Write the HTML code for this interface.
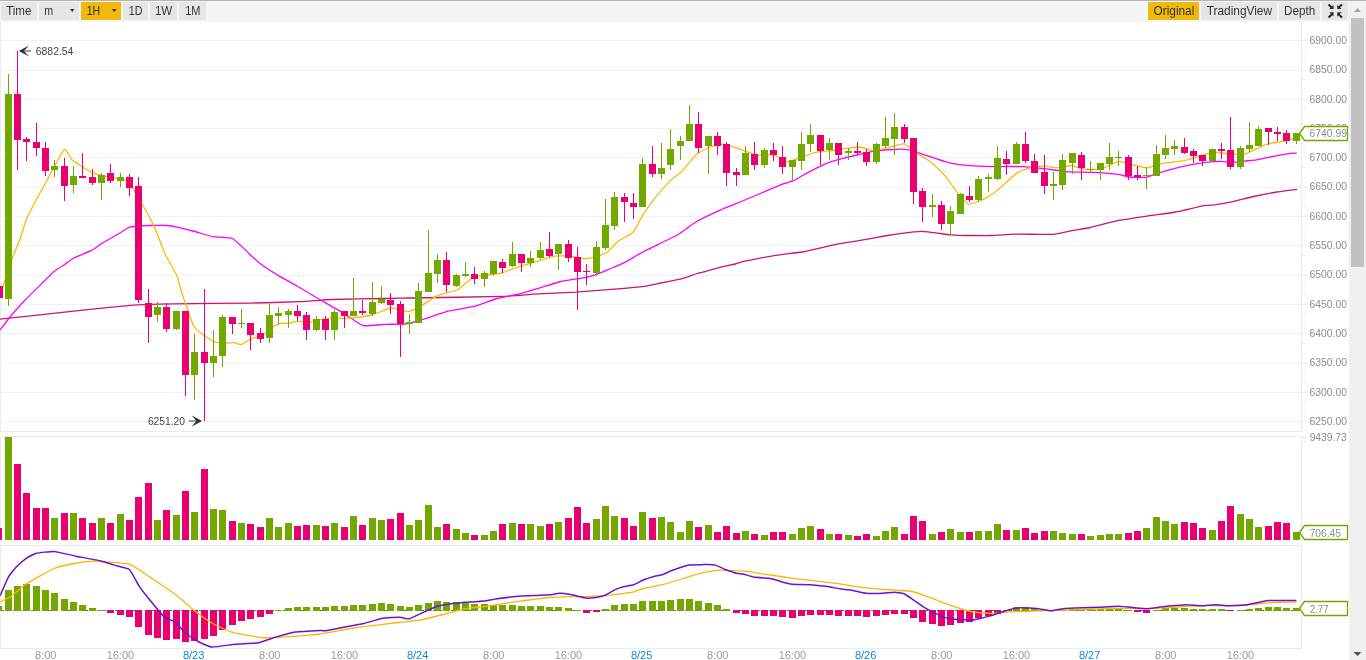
<!DOCTYPE html><html><head><meta charset="utf-8"><style>html,body{margin:0;padding:0;width:1366px;height:660px;overflow:hidden;background:#fff}svg{display:block;font-family:"Liberation Sans",sans-serif;will-change:transform}</style></head><body>
<svg width="1366" height="660" viewBox="0 0 1366 660">
<rect x="0" y="0" width="1366" height="22" fill="#f5f5f5"/>
<rect x="0" y="0" width="1366" height="1" fill="#b4b4b4"/>
<rect x="1" y="2" width="36" height="18" fill="#e6e6e6"/>
<rect x="39" y="2" width="40" height="18" fill="#e6e6e6"/>
<rect x="81" y="2" width="40" height="18" fill="#f0b90b"/>
<rect x="123" y="2" width="25" height="18" fill="#e6e6e6"/>
<rect x="150" y="2" width="27" height="18" fill="#e6e6e6"/>
<rect x="179" y="2" width="27" height="18" fill="#e6e6e6"/>
<rect x="1148" y="2" width="51" height="18" fill="#f0b90b"/>
<rect x="1201" y="2" width="76" height="18" fill="#e6e6e6"/>
<rect x="1279" y="2" width="41" height="18" fill="#e6e6e6"/>
<rect x="1322" y="2" width="26" height="18" fill="#e6e6e6"/>
<g font-size="12" fill="#333" lengthAdjust="spacingAndGlyphs">
<text x="6.2" y="14.8" textLength="25.2" lengthAdjust="spacingAndGlyphs">Time</text>
<text x="44.2" y="14.8" textLength="8.9" lengthAdjust="spacingAndGlyphs">m</text>
<text x="86.7" y="14.8" textLength="13.5" lengthAdjust="spacingAndGlyphs">1H</text>
<text x="128.8" y="14.8" textLength="13.7" lengthAdjust="spacingAndGlyphs">1D</text>
<text x="154.9" y="14.8" textLength="17.4" lengthAdjust="spacingAndGlyphs">1W</text>
<text x="185.2" y="14.8" textLength="15.3" lengthAdjust="spacingAndGlyphs">1M</text>
<text x="1153.6" y="14.8" textLength="40.7" lengthAdjust="spacingAndGlyphs">Original</text>
<text x="1206.7" y="14.8" textLength="65.3" lengthAdjust="spacingAndGlyphs">TradingView</text>
<text x="1284" y="14.8" textLength="31.2" lengthAdjust="spacingAndGlyphs">Depth</text>
</g>
<path d="M70,9 L74.5,9 L72.25,12 Z" fill="#333"/>
<path d="M112,9 L116.5,9 L114.25,12 Z" fill="#333"/>
<g stroke="#262626" stroke-width="2" stroke-linecap="butt" fill="#262626"><path d="M1328.5,4.5 L1331.8,7.6"/><path d="M1342,4.5 L1338.7,7.6"/><path d="M1328.5,17.5 L1331.8,14.4"/><path d="M1342,17.5 L1338.7,14.4"/></g>
<g fill="#262626"><path d="M1333.5,5 L1333.5,9 L1329.3,9 Z"/><path d="M1337.3,5 L1337.3,9 L1341.5,9 Z"/><path d="M1333.5,12.3 L1329.3,12.3 L1333.5,16.5 Z"/><path d="M1337.3,12.3 L1341.5,12.3 L1337.3,16.5 Z"/></g>
<rect x="1349" y="22" width="17" height="638" fill="#f0f0f0"/>
<rect x="1349" y="1" width="17" height="21" fill="#f1f1f1"/>
<rect x="1351" y="18" width="13" height="249" fill="#c1c1c1"/>
<path d="M1354,12 L1361,12 L1357.5,8 Z" fill="#a3a3a3"/>
<path d="M1353.5,652 L1361.5,652 L1357.5,656 Z" fill="#505050"/>
<g fill="none" stroke="#ebebeb" stroke-width="1" shape-rendering="crispEdges">
<path d="M0.5,22 V431.5 H1301.5 V22"/>
<path d="M0.5,436.5 H1301.5 V540.5 M0.5,436.5 V540"/>
<path d="M0.5,545.5 H1301.5 V648.5 H0.5 Z"/>
</g>
<g stroke="#efefef" stroke-width="1" stroke-dasharray="6.5 1.5">
<line x1="-1" y1="40.5" x2="1308" y2="40.5"/>
<line x1="-1" y1="70.5" x2="1308" y2="70.5"/>
<line x1="-1" y1="99.5" x2="1308" y2="99.5"/>
<line x1="-1" y1="128.5" x2="1308" y2="128.5"/>
<line x1="-1" y1="157.5" x2="1308" y2="157.5"/>
<line x1="-1" y1="187.5" x2="1308" y2="187.5"/>
<line x1="-1" y1="216.5" x2="1308" y2="216.5"/>
<line x1="-1" y1="245.5" x2="1308" y2="245.5"/>
<line x1="-1" y1="275.5" x2="1308" y2="275.5"/>
<line x1="-1" y1="304.5" x2="1308" y2="304.5"/>
<line x1="-1" y1="333.5" x2="1308" y2="333.5"/>
<line x1="-1" y1="363.5" x2="1308" y2="363.5"/>
<line x1="-1" y1="392.5" x2="1308" y2="392.5"/>
<line x1="-1" y1="421.5" x2="1308" y2="421.5"/>
</g>
<g fill="#e0e0e0" shape-rendering="crispEdges">
<rect x="1303" y="50" width="2" height="1"/>
<rect x="1303" y="59" width="2" height="1"/>
<rect x="1303" y="79" width="2" height="1"/>
<rect x="1303" y="89" width="2" height="1"/>
<rect x="1303" y="108" width="2" height="1"/>
<rect x="1303" y="118" width="2" height="1"/>
<rect x="1303" y="138" width="2" height="1"/>
<rect x="1303" y="147" width="2" height="1"/>
<rect x="1303" y="167" width="2" height="1"/>
<rect x="1303" y="177" width="2" height="1"/>
<rect x="1303" y="196" width="2" height="1"/>
<rect x="1303" y="206" width="2" height="1"/>
<rect x="1303" y="226" width="2" height="1"/>
<rect x="1303" y="235" width="2" height="1"/>
<rect x="1303" y="255" width="2" height="1"/>
<rect x="1303" y="265" width="2" height="1"/>
<rect x="1303" y="284" width="2" height="1"/>
<rect x="1303" y="294" width="2" height="1"/>
<rect x="1303" y="313" width="2" height="1"/>
<rect x="1303" y="323" width="2" height="1"/>
<rect x="1303" y="343" width="2" height="1"/>
<rect x="1303" y="353" width="2" height="1"/>
<rect x="1303" y="372" width="2" height="1"/>
<rect x="1303" y="382" width="2" height="1"/>
<rect x="1303" y="401" width="2" height="1"/>
<rect x="1303" y="411" width="2" height="1"/>
<rect x="1302" y="437" width="5" height="1"/><rect x="1303" y="441" width="2" height="1"/>
</g>
<g font-size="10.8" fill="#8c8c8c">
<text x="1309.6" y="43.9" textLength="37.4" lengthAdjust="spacingAndGlyphs">6900.00</text>
<text x="1309.6" y="73.2" textLength="37.4" lengthAdjust="spacingAndGlyphs">6850.00</text>
<text x="1309.6" y="102.5" textLength="37.4" lengthAdjust="spacingAndGlyphs">6800.00</text>
<text x="1309.6" y="131.8" textLength="37.4" lengthAdjust="spacingAndGlyphs">6750.00</text>
<text x="1309.6" y="161.1" textLength="37.4" lengthAdjust="spacingAndGlyphs">6700.00</text>
<text x="1309.6" y="190.4" textLength="37.4" lengthAdjust="spacingAndGlyphs">6650.00</text>
<text x="1309.6" y="219.8" textLength="37.4" lengthAdjust="spacingAndGlyphs">6600.00</text>
<text x="1309.6" y="249.1" textLength="37.4" lengthAdjust="spacingAndGlyphs">6550.00</text>
<text x="1309.6" y="278.4" textLength="37.4" lengthAdjust="spacingAndGlyphs">6500.00</text>
<text x="1309.6" y="307.7" textLength="37.4" lengthAdjust="spacingAndGlyphs">6450.00</text>
<text x="1309.6" y="337.0" textLength="37.4" lengthAdjust="spacingAndGlyphs">6400.00</text>
<text x="1309.6" y="366.3" textLength="37.4" lengthAdjust="spacingAndGlyphs">6350.00</text>
<text x="1309.6" y="395.6" textLength="37.4" lengthAdjust="spacingAndGlyphs">6300.00</text>
<text x="1309.6" y="424.9" textLength="37.4" lengthAdjust="spacingAndGlyphs">6250.00</text>
<text x="1309.7" y="441" textLength="36.9" lengthAdjust="spacingAndGlyphs">9439.73</text>
</g>
<path d="M0.0,319.1 C4.0,318.7 51.3,313.6 60.0,312.7 C68.7,311.8 122.5,305.9 130.0,305.3 C137.5,304.7 164.3,303.9 172.4,303.8 C180.5,303.7 242.4,303.2 250.9,303.1 C259.4,303.0 294.3,301.9 299.7,301.7 C305.1,301.5 325.8,299.7 331.5,299.5 C337.2,299.3 379.7,298.6 385.0,298.5 C390.3,298.4 402.6,298.1 410.5,298.0 C418.4,297.9 495.6,296.7 503.8,296.4 C512.0,296.1 528.7,294.5 533.5,294.2 C538.3,293.9 571.0,292.4 575.9,292.1 C580.8,291.8 603.4,289.9 607.7,289.6 C612.0,289.3 636.5,287.3 640.0,286.9 C643.5,286.5 658.2,283.5 660.9,283.0 C663.6,282.5 677.6,279.8 680.0,279.2 C682.4,278.6 695.2,274.1 697.1,273.5 C699.0,272.9 707.0,271.1 708.5,270.7 C710.0,270.3 718.1,267.7 719.9,267.3 C721.7,266.9 733.5,264.4 735.2,264.0 C736.9,263.6 742.2,261.7 744.7,261.2 C747.2,260.7 769.4,256.4 773.2,255.8 C777.0,255.2 798.6,252.5 801.8,252.0 C805.0,251.5 818.3,248.4 820.8,247.8 C823.3,247.2 837.3,244.2 839.8,243.7 C842.3,243.2 855.7,241.1 858.9,240.6 C862.1,240.1 884.7,236.0 887.4,235.5 C890.1,235.0 897.7,233.9 900.0,233.6 C902.3,233.3 918.6,231.3 922.0,231.4 C925.4,231.5 947.4,234.5 950.5,234.8 C953.6,235.1 965.9,235.5 968.6,235.5 C971.3,235.5 988.4,235.6 991.4,235.5 C994.4,235.4 1010.9,234.2 1014.1,234.1 C1017.3,234.0 1037.4,234.3 1040.0,234.3 C1042.6,234.3 1051.5,234.5 1053.6,234.3 C1055.7,234.1 1068.5,231.3 1071.0,230.8 C1073.5,230.3 1087.3,228.2 1090.4,227.5 C1093.5,226.8 1113.7,221.5 1117.6,220.7 C1121.5,219.9 1144.7,216.5 1148.6,215.9 C1152.5,215.3 1172.2,212.7 1175.8,212.0 C1179.4,211.3 1200.3,206.3 1202.9,205.8 C1205.5,205.3 1212.5,205.1 1214.6,204.8 C1216.7,204.5 1231.4,201.9 1234.0,201.3 C1236.6,200.7 1250.6,197.1 1253.4,196.5 C1256.2,195.9 1273.8,192.5 1276.7,192.0 C1279.6,191.5 1295.6,189.5 1297.0,189.3" fill="none" stroke="#c8176e" stroke-width="1.3"/>
<path d="M0.0,330.2 C0.6,329.4 7.5,319.9 9.1,318.0 C10.7,316.1 21.2,304.1 24.2,301.0 C27.2,297.9 51.1,274.2 53.8,271.8 C56.5,269.4 62.9,265.7 64.2,264.8 C65.5,263.9 72.0,259.0 73.9,258.0 C75.8,257.0 90.1,251.2 92.0,250.2 C93.9,249.2 99.9,244.6 101.7,243.5 C103.5,242.4 116.8,234.9 118.7,233.8 C120.6,232.7 127.5,227.8 129.6,227.2 C131.7,226.6 147.2,225.6 149.7,225.5 C152.2,225.4 165.6,225.4 167.4,225.5 C169.2,225.6 175.6,226.7 177.3,227.1 C179.0,227.5 190.6,230.4 193.0,231.0 C195.4,231.6 210.1,236.1 212.7,236.6 C215.3,237.1 230.0,237.4 232.4,238.5 C234.8,239.6 246.4,251.0 248.2,252.7 C250.0,254.4 257.9,262.0 260.0,263.6 C262.1,265.2 277.2,274.9 279.7,276.4 C282.2,277.9 294.7,284.6 297.4,286.2 C300.1,287.8 317.9,298.5 320.9,300.2 C323.9,301.9 339.3,310.6 342.1,312.3 C344.9,314.0 360.4,324.8 363.3,325.6 C366.2,326.4 382.1,324.4 385.0,324.3 C387.9,324.2 403.5,324.3 406.2,323.9 C408.9,323.5 422.6,319.4 425.3,318.6 C428.0,317.8 443.1,312.4 446.5,311.6 C449.9,310.8 472.8,306.8 476.2,305.9 C479.6,305.0 494.4,299.3 497.4,298.5 C500.4,297.7 517.9,294.3 520.7,293.6 C523.5,292.9 537.1,288.7 539.8,287.9 C542.5,287.1 557.9,282.2 561.0,281.5 C564.1,280.8 584.1,277.8 586.5,277.3 C588.9,276.8 595.7,274.6 597.1,274.1 C598.5,273.6 605.9,270.6 607.7,269.8 C609.5,269.0 622.2,263.7 624.7,262.4 C627.2,261.1 641.5,252.6 645.0,250.8 C648.5,249.0 674.0,236.9 677.4,235.0 C680.8,233.1 692.6,223.9 695.4,222.3 C698.2,220.7 715.3,212.2 718.8,210.6 C722.3,209.0 744.3,200.3 748.5,198.5 C752.7,196.7 779.4,185.3 782.4,184.1 C785.4,182.9 791.0,181.8 793.0,180.9 C795.0,180.0 809.7,171.5 812.1,170.3 C814.5,169.1 826.8,163.2 829.1,162.4 C831.4,161.6 843.9,158.1 846.0,157.6 C848.1,157.1 857.9,154.9 860.0,154.4 C862.1,153.9 875.0,151.1 877.7,150.7 C880.4,150.3 898.4,149.1 900.5,149.1 C902.6,149.1 907.7,149.7 909.5,150.2 C911.3,150.7 925.0,155.0 927.7,155.9 C930.4,156.8 947.5,162.5 950.5,163.2 C953.5,163.9 970.2,165.7 973.2,165.9 C976.2,166.1 992.6,166.6 995.9,166.6 C999.2,166.6 1019.9,166.4 1023.2,166.6 C1026.5,166.8 1042.9,168.6 1045.9,168.9 C1048.9,169.2 1065.3,171.6 1068.6,171.8 C1071.9,172.0 1092.6,172.1 1095.9,172.3 C1099.2,172.5 1116.4,174.1 1118.6,174.4 C1120.8,174.7 1127.4,176.8 1129.2,177.0 C1131.0,177.2 1144.3,177.6 1145.9,177.4 C1147.5,177.2 1152.2,175.1 1153.5,174.7 C1154.8,174.3 1163.8,171.4 1165.6,170.9 C1167.4,170.4 1178.6,167.3 1180.8,166.8 C1183.0,166.3 1196.3,163.7 1198.9,163.3 C1201.5,162.9 1218.1,161.5 1220.2,161.4 C1222.3,161.3 1229.2,162.3 1230.8,162.3 C1232.4,162.3 1242.7,161.3 1244.4,161.1 C1246.1,160.9 1254.9,160.1 1256.5,159.8 C1258.1,159.5 1266.6,157.7 1268.6,157.3 C1270.6,156.9 1284.9,154.1 1286.8,153.8 C1288.7,153.5 1296.0,153.2 1296.7,153.2" fill="none" stroke="#ff00ff" stroke-width="1.3"/>
<path d="M2.3,288.5 C2.9,286.6 10.6,262.9 11.8,259.7 C13.0,256.5 18.7,242.7 19.7,240.0 C20.7,237.3 25.5,221.5 26.6,218.8 C27.7,216.1 34.9,202.4 36.3,199.8 C37.7,197.2 45.3,183.4 47.2,180.0 C49.1,176.6 62.5,150.8 64.2,149.5 C65.9,148.2 70.8,158.9 72.7,160.4 C74.6,161.9 90.1,171.7 92.0,172.7 C93.9,173.7 99.4,175.1 101.7,175.6 C104.0,176.1 124.0,180.0 125.9,180.5 C127.8,181.0 128.9,182.3 130.0,183.8 C131.1,185.3 140.2,200.7 141.8,203.5 C143.4,206.3 152.0,221.7 153.6,225.1 C155.2,228.5 163.9,251.3 165.5,254.7 C167.1,258.1 176.3,274.0 177.3,276.4 C178.3,278.8 179.8,286.7 180.9,290.0 C182.0,293.3 192.0,323.0 193.6,326.0 C195.2,329.0 202.8,334.5 204.2,335.6 C205.6,336.7 213.3,341.5 214.8,342.0 C216.3,342.5 225.2,343.0 226.5,343.0 C227.8,343.0 232.9,342.5 233.9,342.6 C234.9,342.7 240.2,344.8 241.3,344.5 C242.4,344.2 249.4,339.5 250.9,338.8 C252.4,338.1 262.0,335.4 263.6,334.5 C265.2,333.6 273.1,326.7 274.2,326.0 C275.3,325.3 279.6,323.5 280.6,323.3 C281.6,323.1 288.0,323.4 289.1,323.3 C290.2,323.2 296.1,321.5 297.5,321.4 C298.9,321.3 308.7,321.9 310.3,321.8 C311.9,321.7 319.3,320.0 320.9,319.7 C322.5,319.4 332.0,317.7 333.6,317.6 C335.2,317.5 342.8,318.6 344.2,318.6 C345.6,318.6 353.0,317.8 354.8,317.6 C356.6,317.4 369.5,315.6 371.8,315.0 C374.1,314.4 388.3,308.4 390.0,308.0 C391.7,307.6 396.5,308.9 397.7,309.1 C398.9,309.3 406.7,311.8 408.3,311.6 C409.9,311.4 419.0,307.0 421.0,305.9 C423.0,304.8 435.6,296.4 438.0,295.3 C440.4,294.2 454.8,291.1 457.1,290.0 C459.4,288.9 470.4,279.3 472.0,278.3 C473.6,277.3 478.4,276.0 480.4,275.6 C482.4,275.2 499.5,273.5 501.6,273.0 C503.7,272.5 510.2,269.5 512.3,268.8 C514.4,268.1 530.7,263.2 533.5,262.4 C536.3,261.6 552.3,256.5 554.7,256.1 C557.1,255.7 567.4,255.9 569.5,256.1 C571.6,256.3 584.7,258.6 586.5,258.6 C588.3,258.6 595.7,257.0 597.1,256.5 C598.5,256.0 606.3,252.8 607.7,251.8 C609.1,250.8 616.6,242.5 618.3,241.2 C620.0,239.9 631.5,234.0 633.1,232.3 C634.7,230.6 640.9,218.2 642.4,215.9 C643.9,213.6 653.3,200.2 655.1,197.9 C656.9,195.6 668.3,182.6 670.0,180.9 C671.7,179.2 679.3,173.6 680.6,172.4 C681.9,171.2 688.0,164.2 689.1,162.9 C690.2,161.6 696.2,154.4 697.6,153.3 C699.0,152.2 708.6,147.6 710.3,147.0 C712.0,146.4 721.2,144.1 723.0,144.2 C724.8,144.3 736.2,147.9 737.9,148.4 C739.6,148.9 746.9,151.8 748.5,152.3 C750.1,152.8 759.5,155.2 761.2,155.4 C762.9,155.6 772.2,154.4 773.9,154.8 C775.6,155.2 784.9,161.6 786.6,161.8 C788.3,162.0 797.7,158.8 799.4,158.2 C801.1,157.6 810.5,153.8 812.1,153.3 C813.7,152.8 821.3,151.4 822.7,151.2 C824.1,151.0 831.7,150.8 833.3,150.6 C834.9,150.4 844.2,148.6 846.0,148.4 C847.8,148.2 858.2,146.8 860.0,147.0 C861.8,147.2 871.6,150.6 873.2,150.7 C874.8,150.8 882.5,148.9 884.5,148.4 C886.5,147.9 901.6,143.5 903.9,143.9 C906.2,144.3 916.7,152.8 918.6,154.1 C920.5,155.4 930.5,161.7 932.3,163.2 C934.1,164.7 944.2,174.8 945.9,176.8 C947.6,178.8 956.9,192.1 958.4,193.9 C959.9,195.7 967.0,203.7 968.6,204.1 C970.2,204.5 980.5,200.8 982.3,200.0 C984.1,199.2 993.6,193.4 995.9,191.6 C998.2,189.8 1014.1,175.0 1016.4,173.4 C1018.7,171.8 1029.3,167.8 1031.1,167.3 C1032.9,166.8 1041.9,165.9 1043.6,165.9 C1045.3,165.9 1055.5,167.7 1057.3,167.7 C1059.1,167.7 1069.2,165.4 1070.9,165.5 C1072.6,165.6 1080.6,168.6 1082.3,168.9 C1084.0,169.2 1094.4,169.6 1095.9,169.5 C1097.4,169.4 1103.5,167.8 1105.0,167.3 C1106.5,166.8 1117.1,161.7 1118.6,161.4 C1120.1,161.1 1126.5,163.0 1127.7,163.3 C1128.9,163.6 1135.5,165.6 1136.8,165.9 C1138.1,166.2 1145.5,167.9 1146.7,167.9 C1147.9,167.9 1153.9,165.6 1155.0,165.3 C1156.1,165.0 1161.3,163.5 1162.6,163.3 C1163.9,163.1 1173.2,162.0 1174.7,161.8 C1176.2,161.6 1183.9,160.6 1185.3,160.3 C1186.7,160.0 1194.4,157.8 1195.9,157.3 C1197.4,156.8 1206.6,153.8 1208.0,153.5 C1209.4,153.2 1215.8,152.3 1217.1,152.3 C1218.4,152.3 1226.5,153.7 1227.7,153.8 C1228.9,153.9 1234.0,154.2 1235.3,154.2 C1236.6,154.2 1246.0,153.6 1247.4,153.2 C1248.8,152.8 1255.4,149.4 1256.5,148.9 C1257.6,148.4 1263.0,145.6 1264.1,145.2 C1265.2,144.8 1272.0,143.1 1273.2,142.9 C1274.4,142.7 1281.1,142.0 1282.3,141.7 C1283.5,141.4 1290.4,139.4 1291.4,139.1 C1292.4,138.8 1296.3,137.2 1296.7,137.1" fill="none" stroke="#ffb900" stroke-width="1.3"/>
<g shape-rendering="crispEdges">
<rect x="0" y="286" width="3" height="12" fill="#e8006e"/>
<rect x="8" y="74" width="1" height="232" fill="#72a800"/>
<rect x="5" y="94" width="7" height="205" fill="#72a800"/>
<rect x="17" y="51" width="1" height="119" fill="#e8006e"/>
<rect x="14" y="94" width="7" height="46" fill="#e8006e"/>
<rect x="26" y="137" width="1" height="24" fill="#e8006e"/>
<rect x="23" y="139" width="7" height="3" fill="#e8006e"/>
<rect x="36" y="123" width="1" height="33" fill="#e8006e"/>
<rect x="33" y="142" width="7" height="6" fill="#e8006e"/>
<rect x="45" y="142" width="1" height="34" fill="#e8006e"/>
<rect x="42" y="148" width="7" height="23" fill="#e8006e"/>
<rect x="54" y="160" width="1" height="17" fill="#72a800"/>
<rect x="51" y="166" width="7" height="4" fill="#72a800"/>
<rect x="64" y="158" width="1" height="43" fill="#e8006e"/>
<rect x="61" y="166" width="7" height="20" fill="#e8006e"/>
<rect x="73" y="166" width="1" height="27" fill="#72a800"/>
<rect x="70" y="176" width="7" height="9" fill="#72a800"/>
<rect x="82" y="153" width="1" height="25" fill="#e8006e"/>
<rect x="79" y="176" width="7" height="2" fill="#e8006e"/>
<rect x="92" y="169" width="1" height="16" fill="#e8006e"/>
<rect x="89" y="177" width="7" height="6" fill="#e8006e"/>
<rect x="101" y="173" width="1" height="27" fill="#72a800"/>
<rect x="98" y="175" width="7" height="8" fill="#72a800"/>
<rect x="110" y="164" width="1" height="19" fill="#e8006e"/>
<rect x="107" y="173" width="7" height="8" fill="#e8006e"/>
<rect x="120" y="173" width="1" height="14" fill="#72a800"/>
<rect x="117" y="177" width="7" height="4" fill="#72a800"/>
<rect x="129" y="174" width="1" height="22" fill="#e8006e"/>
<rect x="126" y="177" width="7" height="11" fill="#e8006e"/>
<rect x="138" y="177" width="1" height="126" fill="#e8006e"/>
<rect x="135" y="186" width="7" height="114" fill="#e8006e"/>
<rect x="148" y="289" width="1" height="54" fill="#e8006e"/>
<rect x="145" y="303" width="7" height="14" fill="#e8006e"/>
<rect x="157" y="302" width="1" height="20" fill="#72a800"/>
<rect x="154" y="307" width="7" height="8" fill="#72a800"/>
<rect x="166" y="303" width="1" height="29" fill="#e8006e"/>
<rect x="163" y="307" width="7" height="22" fill="#e8006e"/>
<rect x="176" y="311" width="1" height="19" fill="#72a800"/>
<rect x="173" y="311" width="7" height="18" fill="#72a800"/>
<rect x="185" y="311" width="1" height="85" fill="#e8006e"/>
<rect x="182" y="311" width="7" height="64" fill="#e8006e"/>
<rect x="194" y="334" width="1" height="66" fill="#72a800"/>
<rect x="191" y="352" width="7" height="23" fill="#72a800"/>
<rect x="204" y="289" width="1" height="132" fill="#e8006e"/>
<rect x="201" y="352" width="7" height="11" fill="#e8006e"/>
<rect x="213" y="330" width="1" height="47" fill="#72a800"/>
<rect x="210" y="356" width="7" height="7" fill="#72a800"/>
<rect x="222" y="315" width="1" height="52" fill="#72a800"/>
<rect x="219" y="317" width="7" height="39" fill="#72a800"/>
<rect x="232" y="317" width="1" height="17" fill="#e8006e"/>
<rect x="229" y="317" width="7" height="7" fill="#e8006e"/>
<rect x="241" y="309" width="1" height="19" fill="#72a800"/>
<rect x="238" y="323" width="7" height="1" fill="#72a800"/>
<rect x="250" y="323" width="1" height="27" fill="#e8006e"/>
<rect x="247" y="323" width="7" height="12" fill="#e8006e"/>
<rect x="260" y="328" width="1" height="15" fill="#e8006e"/>
<rect x="257" y="333" width="7" height="6" fill="#e8006e"/>
<rect x="269" y="304" width="1" height="39" fill="#72a800"/>
<rect x="266" y="315" width="7" height="23" fill="#72a800"/>
<rect x="278" y="307" width="1" height="18" fill="#72a800"/>
<rect x="275" y="313" width="7" height="3" fill="#72a800"/>
<rect x="288" y="309" width="1" height="19" fill="#72a800"/>
<rect x="285" y="311" width="7" height="4" fill="#72a800"/>
<rect x="297" y="305" width="1" height="16" fill="#e8006e"/>
<rect x="294" y="311" width="7" height="5" fill="#e8006e"/>
<rect x="306" y="312" width="1" height="28" fill="#e8006e"/>
<rect x="303" y="315" width="7" height="15" fill="#e8006e"/>
<rect x="316" y="316" width="1" height="15" fill="#72a800"/>
<rect x="313" y="319" width="7" height="11" fill="#72a800"/>
<rect x="325" y="316" width="1" height="24" fill="#e8006e"/>
<rect x="322" y="319" width="7" height="11" fill="#e8006e"/>
<rect x="334" y="310" width="1" height="30" fill="#72a800"/>
<rect x="331" y="312" width="7" height="18" fill="#72a800"/>
<rect x="344" y="311" width="1" height="17" fill="#e8006e"/>
<rect x="341" y="311" width="7" height="5" fill="#e8006e"/>
<rect x="353" y="278" width="1" height="38" fill="#72a800"/>
<rect x="350" y="311" width="7" height="5" fill="#72a800"/>
<rect x="362" y="300" width="1" height="15" fill="#e8006e"/>
<rect x="359" y="311" width="7" height="2" fill="#e8006e"/>
<rect x="372" y="282" width="1" height="34" fill="#72a800"/>
<rect x="369" y="302" width="7" height="12" fill="#72a800"/>
<rect x="381" y="286" width="1" height="18" fill="#72a800"/>
<rect x="378" y="299" width="7" height="4" fill="#72a800"/>
<rect x="390" y="293" width="1" height="21" fill="#e8006e"/>
<rect x="387" y="300" width="7" height="5" fill="#e8006e"/>
<rect x="400" y="301" width="1" height="56" fill="#e8006e"/>
<rect x="397" y="304" width="7" height="20" fill="#e8006e"/>
<rect x="409" y="314" width="1" height="20" fill="#72a800"/>
<rect x="406" y="322" width="7" height="2" fill="#72a800"/>
<rect x="418" y="283" width="1" height="40" fill="#72a800"/>
<rect x="415" y="291" width="7" height="32" fill="#72a800"/>
<rect x="428" y="230" width="1" height="62" fill="#72a800"/>
<rect x="425" y="273" width="7" height="19" fill="#72a800"/>
<rect x="437" y="254" width="1" height="29" fill="#72a800"/>
<rect x="434" y="260" width="7" height="14" fill="#72a800"/>
<rect x="446" y="252" width="1" height="40" fill="#e8006e"/>
<rect x="443" y="260" width="7" height="25" fill="#e8006e"/>
<rect x="456" y="274" width="1" height="13" fill="#72a800"/>
<rect x="453" y="275" width="7" height="11" fill="#72a800"/>
<rect x="465" y="262" width="1" height="15" fill="#72a800"/>
<rect x="462" y="274" width="7" height="2" fill="#72a800"/>
<rect x="474" y="267" width="1" height="17" fill="#e8006e"/>
<rect x="471" y="274" width="7" height="5" fill="#e8006e"/>
<rect x="484" y="271" width="1" height="16" fill="#72a800"/>
<rect x="481" y="273" width="7" height="6" fill="#72a800"/>
<rect x="493" y="261" width="1" height="15" fill="#72a800"/>
<rect x="490" y="261" width="7" height="13" fill="#72a800"/>
<rect x="502" y="259" width="1" height="14" fill="#e8006e"/>
<rect x="499" y="262" width="7" height="6" fill="#e8006e"/>
<rect x="512" y="242" width="1" height="25" fill="#72a800"/>
<rect x="509" y="254" width="7" height="12" fill="#72a800"/>
<rect x="521" y="254" width="1" height="18" fill="#e8006e"/>
<rect x="518" y="254" width="7" height="9" fill="#e8006e"/>
<rect x="530" y="251" width="1" height="16" fill="#72a800"/>
<rect x="527" y="258" width="7" height="5" fill="#72a800"/>
<rect x="540" y="242" width="1" height="17" fill="#72a800"/>
<rect x="537" y="250" width="7" height="8" fill="#72a800"/>
<rect x="549" y="232" width="1" height="25" fill="#e8006e"/>
<rect x="546" y="249" width="7" height="7" fill="#e8006e"/>
<rect x="558" y="244" width="1" height="26" fill="#72a800"/>
<rect x="555" y="244" width="7" height="10" fill="#72a800"/>
<rect x="568" y="240" width="1" height="22" fill="#e8006e"/>
<rect x="565" y="244" width="7" height="14" fill="#e8006e"/>
<rect x="577" y="247" width="1" height="63" fill="#e8006e"/>
<rect x="574" y="257" width="7" height="15" fill="#e8006e"/>
<rect x="586" y="264" width="1" height="21" fill="#e8006e"/>
<rect x="583" y="271" width="7" height="1" fill="#e8006e"/>
<rect x="596" y="241" width="1" height="35" fill="#72a800"/>
<rect x="593" y="247" width="7" height="26" fill="#72a800"/>
<rect x="605" y="199" width="1" height="51" fill="#72a800"/>
<rect x="602" y="225" width="7" height="23" fill="#72a800"/>
<rect x="614" y="192" width="1" height="38" fill="#72a800"/>
<rect x="611" y="197" width="7" height="29" fill="#72a800"/>
<rect x="624" y="193" width="1" height="29" fill="#e8006e"/>
<rect x="621" y="197" width="7" height="5" fill="#e8006e"/>
<rect x="633" y="193" width="1" height="26" fill="#e8006e"/>
<rect x="630" y="203" width="7" height="4" fill="#e8006e"/>
<rect x="642" y="158" width="1" height="49" fill="#72a800"/>
<rect x="639" y="164" width="7" height="43" fill="#72a800"/>
<rect x="652" y="146" width="1" height="31" fill="#e8006e"/>
<rect x="649" y="164" width="7" height="10" fill="#e8006e"/>
<rect x="661" y="143" width="1" height="36" fill="#72a800"/>
<rect x="658" y="168" width="7" height="6" fill="#72a800"/>
<rect x="670" y="129" width="1" height="41" fill="#72a800"/>
<rect x="667" y="149" width="7" height="16" fill="#72a800"/>
<rect x="680" y="136" width="1" height="24" fill="#72a800"/>
<rect x="677" y="141" width="7" height="5" fill="#72a800"/>
<rect x="689" y="105" width="1" height="36" fill="#72a800"/>
<rect x="686" y="124" width="7" height="17" fill="#72a800"/>
<rect x="698" y="112" width="1" height="41" fill="#e8006e"/>
<rect x="695" y="124" width="7" height="24" fill="#e8006e"/>
<rect x="708" y="136" width="1" height="38" fill="#72a800"/>
<rect x="705" y="136" width="7" height="10" fill="#72a800"/>
<rect x="717" y="132" width="1" height="23" fill="#e8006e"/>
<rect x="714" y="136" width="7" height="10" fill="#e8006e"/>
<rect x="726" y="142" width="1" height="44" fill="#e8006e"/>
<rect x="723" y="144" width="7" height="29" fill="#e8006e"/>
<rect x="736" y="168" width="1" height="18" fill="#e8006e"/>
<rect x="733" y="172" width="7" height="3" fill="#e8006e"/>
<rect x="745" y="146" width="1" height="29" fill="#72a800"/>
<rect x="742" y="153" width="7" height="22" fill="#72a800"/>
<rect x="754" y="142" width="1" height="28" fill="#e8006e"/>
<rect x="751" y="154" width="7" height="11" fill="#e8006e"/>
<rect x="764" y="148" width="1" height="20" fill="#72a800"/>
<rect x="761" y="150" width="7" height="15" fill="#72a800"/>
<rect x="773" y="143" width="1" height="18" fill="#e8006e"/>
<rect x="770" y="150" width="7" height="5" fill="#e8006e"/>
<rect x="782" y="146" width="1" height="28" fill="#e8006e"/>
<rect x="779" y="157" width="7" height="10" fill="#e8006e"/>
<rect x="792" y="160" width="1" height="20" fill="#72a800"/>
<rect x="789" y="160" width="7" height="7" fill="#72a800"/>
<rect x="801" y="132" width="1" height="38" fill="#72a800"/>
<rect x="798" y="144" width="7" height="17" fill="#72a800"/>
<rect x="810" y="124" width="1" height="28" fill="#72a800"/>
<rect x="807" y="135" width="7" height="9" fill="#72a800"/>
<rect x="820" y="135" width="1" height="30" fill="#e8006e"/>
<rect x="817" y="135" width="7" height="16" fill="#e8006e"/>
<rect x="829" y="138" width="1" height="22" fill="#72a800"/>
<rect x="826" y="143" width="7" height="7" fill="#72a800"/>
<rect x="838" y="143" width="1" height="22" fill="#e8006e"/>
<rect x="835" y="143" width="7" height="12" fill="#e8006e"/>
<rect x="848" y="148" width="1" height="12" fill="#72a800"/>
<rect x="845" y="151" width="7" height="2" fill="#72a800"/>
<rect x="857" y="142" width="1" height="13" fill="#e8006e"/>
<rect x="854" y="151" width="7" height="2" fill="#e8006e"/>
<rect x="866" y="149" width="1" height="17" fill="#e8006e"/>
<rect x="863" y="152" width="7" height="10" fill="#e8006e"/>
<rect x="876" y="143" width="1" height="21" fill="#72a800"/>
<rect x="873" y="144" width="7" height="18" fill="#72a800"/>
<rect x="885" y="117" width="1" height="31" fill="#72a800"/>
<rect x="882" y="138" width="7" height="8" fill="#72a800"/>
<rect x="894" y="113" width="1" height="42" fill="#72a800"/>
<rect x="891" y="127" width="7" height="12" fill="#72a800"/>
<rect x="904" y="124" width="1" height="19" fill="#e8006e"/>
<rect x="901" y="127" width="7" height="12" fill="#e8006e"/>
<rect x="913" y="138" width="1" height="66" fill="#e8006e"/>
<rect x="910" y="138" width="7" height="54" fill="#e8006e"/>
<rect x="922" y="188" width="1" height="34" fill="#e8006e"/>
<rect x="919" y="191" width="7" height="16" fill="#e8006e"/>
<rect x="932" y="194" width="1" height="23" fill="#72a800"/>
<rect x="929" y="205" width="7" height="2" fill="#72a800"/>
<rect x="941" y="201" width="1" height="29" fill="#e8006e"/>
<rect x="938" y="205" width="7" height="19" fill="#e8006e"/>
<rect x="950" y="206" width="1" height="29" fill="#72a800"/>
<rect x="947" y="211" width="7" height="13" fill="#72a800"/>
<rect x="960" y="193" width="1" height="21" fill="#72a800"/>
<rect x="957" y="194" width="7" height="20" fill="#72a800"/>
<rect x="969" y="186" width="1" height="16" fill="#e8006e"/>
<rect x="966" y="196" width="7" height="4" fill="#e8006e"/>
<rect x="978" y="176" width="1" height="26" fill="#72a800"/>
<rect x="975" y="179" width="7" height="21" fill="#72a800"/>
<rect x="988" y="174" width="1" height="18" fill="#72a800"/>
<rect x="985" y="177" width="7" height="2" fill="#72a800"/>
<rect x="997" y="146" width="1" height="34" fill="#72a800"/>
<rect x="994" y="158" width="7" height="21" fill="#72a800"/>
<rect x="1006" y="151" width="1" height="24" fill="#e8006e"/>
<rect x="1003" y="159" width="7" height="5" fill="#e8006e"/>
<rect x="1016" y="142" width="1" height="22" fill="#72a800"/>
<rect x="1013" y="144" width="7" height="20" fill="#72a800"/>
<rect x="1025" y="132" width="1" height="31" fill="#e8006e"/>
<rect x="1022" y="144" width="7" height="17" fill="#e8006e"/>
<rect x="1034" y="154" width="1" height="19" fill="#e8006e"/>
<rect x="1031" y="161" width="7" height="12" fill="#e8006e"/>
<rect x="1044" y="155" width="1" height="39" fill="#e8006e"/>
<rect x="1041" y="172" width="7" height="14" fill="#e8006e"/>
<rect x="1053" y="172" width="1" height="28" fill="#72a800"/>
<rect x="1050" y="184" width="7" height="2" fill="#72a800"/>
<rect x="1062" y="154" width="1" height="36" fill="#72a800"/>
<rect x="1059" y="160" width="7" height="25" fill="#72a800"/>
<rect x="1072" y="153" width="1" height="21" fill="#72a800"/>
<rect x="1069" y="153" width="7" height="10" fill="#72a800"/>
<rect x="1081" y="152" width="1" height="28" fill="#e8006e"/>
<rect x="1078" y="155" width="7" height="13" fill="#e8006e"/>
<rect x="1090" y="161" width="1" height="11" fill="#72a800"/>
<rect x="1087" y="169" width="7" height="1" fill="#72a800"/>
<rect x="1100" y="163" width="1" height="17" fill="#72a800"/>
<rect x="1097" y="163" width="7" height="7" fill="#72a800"/>
<rect x="1109" y="143" width="1" height="27" fill="#72a800"/>
<rect x="1106" y="157" width="7" height="7" fill="#72a800"/>
<rect x="1118" y="151" width="1" height="15" fill="#72a800"/>
<rect x="1115" y="157" width="7" height="1" fill="#72a800"/>
<rect x="1128" y="155" width="1" height="25" fill="#e8006e"/>
<rect x="1125" y="157" width="7" height="19" fill="#e8006e"/>
<rect x="1137" y="166" width="1" height="14" fill="#e8006e"/>
<rect x="1134" y="175" width="7" height="2" fill="#e8006e"/>
<rect x="1146" y="167" width="1" height="22" fill="#72a800"/>
<rect x="1143" y="175" width="7" height="1" fill="#72a800"/>
<rect x="1156" y="145" width="1" height="31" fill="#72a800"/>
<rect x="1153" y="154" width="7" height="22" fill="#72a800"/>
<rect x="1165" y="135" width="1" height="24" fill="#72a800"/>
<rect x="1162" y="148" width="7" height="7" fill="#72a800"/>
<rect x="1174" y="140" width="1" height="15" fill="#72a800"/>
<rect x="1171" y="146" width="7" height="3" fill="#72a800"/>
<rect x="1184" y="138" width="1" height="16" fill="#e8006e"/>
<rect x="1181" y="147" width="7" height="6" fill="#e8006e"/>
<rect x="1193" y="149" width="1" height="14" fill="#e8006e"/>
<rect x="1190" y="151" width="7" height="5" fill="#e8006e"/>
<rect x="1202" y="155" width="1" height="11" fill="#e8006e"/>
<rect x="1199" y="155" width="7" height="6" fill="#e8006e"/>
<rect x="1212" y="149" width="1" height="12" fill="#72a800"/>
<rect x="1209" y="149" width="7" height="12" fill="#72a800"/>
<rect x="1221" y="143" width="1" height="16" fill="#e8006e"/>
<rect x="1218" y="149" width="7" height="2" fill="#e8006e"/>
<rect x="1230" y="117" width="1" height="52" fill="#e8006e"/>
<rect x="1227" y="150" width="7" height="17" fill="#e8006e"/>
<rect x="1240" y="146" width="1" height="23" fill="#72a800"/>
<rect x="1237" y="148" width="7" height="19" fill="#72a800"/>
<rect x="1249" y="122" width="1" height="30" fill="#72a800"/>
<rect x="1246" y="145" width="7" height="4" fill="#72a800"/>
<rect x="1258" y="126" width="1" height="20" fill="#72a800"/>
<rect x="1255" y="129" width="7" height="17" fill="#72a800"/>
<rect x="1268" y="128" width="1" height="17" fill="#e8006e"/>
<rect x="1265" y="128" width="7" height="4" fill="#e8006e"/>
<rect x="1277" y="127" width="1" height="14" fill="#e8006e"/>
<rect x="1274" y="132" width="7" height="2" fill="#e8006e"/>
<rect x="1286" y="130" width="1" height="14" fill="#e8006e"/>
<rect x="1283" y="133" width="7" height="8" fill="#e8006e"/>
<rect x="1296" y="133" width="1" height="11" fill="#72a800"/>
<rect x="1293" y="133" width="7" height="8" fill="#72a800"/>
</g>
<g stroke="#888" stroke-width="1.6" fill="none"><path d="M21,51 H31"/><path d="M189,421 H199"/></g>
<g fill="#333"><path d="M18.8,51 L29,45.5 L24,51 L29,56.5 Z"/><path d="M202,421 L191.5,415.3 L196.5,421 L191.5,426.7 Z"/></g>
<g font-size="10.8" fill="#444"><text x="35.8" y="55" textLength="37.6" lengthAdjust="spacingAndGlyphs">6882.54</text><text x="147.9" y="425" textLength="37.1" lengthAdjust="spacingAndGlyphs">6251.20</text></g>
<path d="M1299.5,133.5 L1304.5,126.5 H1347.5 V140.5 H1304.5 Z" fill="#fff" stroke="#72a800" stroke-width="1.3"/>
<text x="1309.5" y="137.3" font-size="10.8" fill="#8c8c8c" textLength="37.4" lengthAdjust="spacingAndGlyphs">6740.99</text>
<g shape-rendering="crispEdges">
<rect x="0" y="528" width="2" height="12" fill="#e8006e"/>
<rect x="5" y="437" width="7" height="103" fill="#72a800"/>
<rect x="14" y="464" width="7" height="76" fill="#e8006e"/>
<rect x="23" y="493" width="7" height="47" fill="#e8006e"/>
<rect x="33" y="508" width="7" height="32" fill="#e8006e"/>
<rect x="42" y="508" width="7" height="32" fill="#e8006e"/>
<rect x="51" y="518" width="7" height="22" fill="#72a800"/>
<rect x="61" y="513" width="7" height="27" fill="#e8006e"/>
<rect x="70" y="513" width="7" height="27" fill="#72a800"/>
<rect x="79" y="518" width="7" height="22" fill="#e8006e"/>
<rect x="89" y="523" width="7" height="17" fill="#e8006e"/>
<rect x="98" y="518" width="7" height="22" fill="#72a800"/>
<rect x="107" y="523" width="7" height="17" fill="#e8006e"/>
<rect x="117" y="514" width="7" height="26" fill="#72a800"/>
<rect x="126" y="520" width="7" height="20" fill="#e8006e"/>
<rect x="135" y="497" width="7" height="43" fill="#e8006e"/>
<rect x="145" y="483" width="7" height="57" fill="#e8006e"/>
<rect x="154" y="520" width="7" height="20" fill="#72a800"/>
<rect x="163" y="510" width="7" height="30" fill="#e8006e"/>
<rect x="173" y="515" width="7" height="25" fill="#72a800"/>
<rect x="182" y="491" width="7" height="49" fill="#e8006e"/>
<rect x="191" y="512" width="7" height="28" fill="#72a800"/>
<rect x="201" y="469" width="7" height="71" fill="#e8006e"/>
<rect x="210" y="509" width="7" height="31" fill="#72a800"/>
<rect x="219" y="510" width="7" height="30" fill="#72a800"/>
<rect x="229" y="521" width="7" height="19" fill="#e8006e"/>
<rect x="238" y="523" width="7" height="17" fill="#72a800"/>
<rect x="247" y="524" width="7" height="16" fill="#e8006e"/>
<rect x="257" y="527" width="7" height="13" fill="#e8006e"/>
<rect x="266" y="518" width="7" height="22" fill="#72a800"/>
<rect x="275" y="527" width="7" height="13" fill="#72a800"/>
<rect x="285" y="523" width="7" height="17" fill="#72a800"/>
<rect x="294" y="526" width="7" height="14" fill="#e8006e"/>
<rect x="303" y="525" width="7" height="15" fill="#e8006e"/>
<rect x="313" y="525" width="7" height="15" fill="#72a800"/>
<rect x="322" y="526" width="7" height="14" fill="#e8006e"/>
<rect x="331" y="523" width="7" height="17" fill="#72a800"/>
<rect x="341" y="527" width="7" height="13" fill="#e8006e"/>
<rect x="350" y="516" width="7" height="24" fill="#72a800"/>
<rect x="359" y="525" width="7" height="15" fill="#e8006e"/>
<rect x="369" y="518" width="7" height="22" fill="#72a800"/>
<rect x="378" y="520" width="7" height="20" fill="#72a800"/>
<rect x="387" y="519" width="7" height="21" fill="#e8006e"/>
<rect x="397" y="513" width="7" height="27" fill="#e8006e"/>
<rect x="406" y="525" width="7" height="15" fill="#72a800"/>
<rect x="415" y="520" width="7" height="20" fill="#72a800"/>
<rect x="425" y="505" width="7" height="35" fill="#72a800"/>
<rect x="434" y="527" width="7" height="13" fill="#72a800"/>
<rect x="443" y="524" width="7" height="16" fill="#e8006e"/>
<rect x="453" y="529" width="7" height="11" fill="#72a800"/>
<rect x="462" y="533" width="7" height="7" fill="#72a800"/>
<rect x="471" y="535" width="7" height="5" fill="#e8006e"/>
<rect x="481" y="535" width="7" height="5" fill="#72a800"/>
<rect x="490" y="531" width="7" height="9" fill="#72a800"/>
<rect x="499" y="524" width="7" height="16" fill="#e8006e"/>
<rect x="509" y="523" width="7" height="17" fill="#72a800"/>
<rect x="518" y="524" width="7" height="16" fill="#e8006e"/>
<rect x="527" y="524" width="7" height="16" fill="#72a800"/>
<rect x="537" y="526" width="7" height="14" fill="#72a800"/>
<rect x="546" y="524" width="7" height="16" fill="#e8006e"/>
<rect x="555" y="522" width="7" height="18" fill="#72a800"/>
<rect x="565" y="518" width="7" height="22" fill="#e8006e"/>
<rect x="574" y="507" width="7" height="33" fill="#e8006e"/>
<rect x="583" y="523" width="7" height="17" fill="#e8006e"/>
<rect x="593" y="519" width="7" height="21" fill="#72a800"/>
<rect x="602" y="506" width="7" height="34" fill="#72a800"/>
<rect x="611" y="516" width="7" height="24" fill="#72a800"/>
<rect x="621" y="518" width="7" height="22" fill="#e8006e"/>
<rect x="630" y="526" width="7" height="14" fill="#e8006e"/>
<rect x="639" y="512" width="7" height="28" fill="#72a800"/>
<rect x="649" y="518" width="7" height="22" fill="#e8006e"/>
<rect x="658" y="517" width="7" height="23" fill="#72a800"/>
<rect x="667" y="522" width="7" height="18" fill="#72a800"/>
<rect x="677" y="532" width="7" height="8" fill="#72a800"/>
<rect x="686" y="521" width="7" height="19" fill="#72a800"/>
<rect x="695" y="527" width="7" height="13" fill="#e8006e"/>
<rect x="705" y="525" width="7" height="15" fill="#72a800"/>
<rect x="714" y="532" width="7" height="8" fill="#e8006e"/>
<rect x="723" y="526" width="7" height="14" fill="#e8006e"/>
<rect x="733" y="533" width="7" height="7" fill="#e8006e"/>
<rect x="742" y="531" width="7" height="9" fill="#72a800"/>
<rect x="751" y="534" width="7" height="6" fill="#e8006e"/>
<rect x="761" y="535" width="7" height="5" fill="#72a800"/>
<rect x="770" y="532" width="7" height="8" fill="#e8006e"/>
<rect x="779" y="532" width="7" height="8" fill="#e8006e"/>
<rect x="789" y="534" width="7" height="6" fill="#72a800"/>
<rect x="798" y="528" width="7" height="12" fill="#72a800"/>
<rect x="807" y="526" width="7" height="14" fill="#72a800"/>
<rect x="817" y="529" width="7" height="11" fill="#e8006e"/>
<rect x="826" y="534" width="7" height="6" fill="#72a800"/>
<rect x="835" y="534" width="7" height="6" fill="#e8006e"/>
<rect x="845" y="535" width="7" height="5" fill="#72a800"/>
<rect x="854" y="536" width="7" height="4" fill="#e8006e"/>
<rect x="863" y="534" width="7" height="6" fill="#e8006e"/>
<rect x="873" y="536" width="7" height="4" fill="#72a800"/>
<rect x="882" y="531" width="7" height="9" fill="#72a800"/>
<rect x="891" y="527" width="7" height="13" fill="#72a800"/>
<rect x="901" y="534" width="7" height="6" fill="#e8006e"/>
<rect x="910" y="516" width="7" height="24" fill="#e8006e"/>
<rect x="919" y="521" width="7" height="19" fill="#e8006e"/>
<rect x="929" y="534" width="7" height="6" fill="#72a800"/>
<rect x="938" y="532" width="7" height="8" fill="#e8006e"/>
<rect x="947" y="529" width="7" height="11" fill="#72a800"/>
<rect x="957" y="532" width="7" height="8" fill="#72a800"/>
<rect x="966" y="532" width="7" height="8" fill="#e8006e"/>
<rect x="975" y="531" width="7" height="9" fill="#72a800"/>
<rect x="985" y="531" width="7" height="9" fill="#72a800"/>
<rect x="994" y="524" width="7" height="16" fill="#72a800"/>
<rect x="1003" y="530" width="7" height="10" fill="#e8006e"/>
<rect x="1013" y="530" width="7" height="10" fill="#72a800"/>
<rect x="1022" y="528" width="7" height="12" fill="#e8006e"/>
<rect x="1031" y="533" width="7" height="7" fill="#e8006e"/>
<rect x="1041" y="531" width="7" height="9" fill="#e8006e"/>
<rect x="1050" y="531" width="7" height="9" fill="#72a800"/>
<rect x="1059" y="533" width="7" height="7" fill="#72a800"/>
<rect x="1069" y="534" width="7" height="6" fill="#72a800"/>
<rect x="1078" y="534" width="7" height="6" fill="#e8006e"/>
<rect x="1087" y="536" width="7" height="4" fill="#72a800"/>
<rect x="1097" y="535" width="7" height="5" fill="#72a800"/>
<rect x="1106" y="534" width="7" height="6" fill="#72a800"/>
<rect x="1115" y="534" width="7" height="6" fill="#72a800"/>
<rect x="1125" y="533" width="7" height="7" fill="#e8006e"/>
<rect x="1134" y="531" width="7" height="9" fill="#e8006e"/>
<rect x="1143" y="528" width="7" height="12" fill="#72a800"/>
<rect x="1153" y="517" width="7" height="23" fill="#72a800"/>
<rect x="1162" y="521" width="7" height="19" fill="#72a800"/>
<rect x="1171" y="524" width="7" height="16" fill="#72a800"/>
<rect x="1181" y="522" width="7" height="18" fill="#e8006e"/>
<rect x="1190" y="523" width="7" height="17" fill="#e8006e"/>
<rect x="1199" y="528" width="7" height="12" fill="#e8006e"/>
<rect x="1209" y="530" width="7" height="10" fill="#72a800"/>
<rect x="1218" y="521" width="7" height="19" fill="#e8006e"/>
<rect x="1227" y="506" width="7" height="34" fill="#e8006e"/>
<rect x="1237" y="514" width="7" height="26" fill="#72a800"/>
<rect x="1246" y="519" width="7" height="21" fill="#72a800"/>
<rect x="1255" y="527" width="7" height="13" fill="#72a800"/>
<rect x="1265" y="526" width="7" height="14" fill="#e8006e"/>
<rect x="1274" y="522" width="7" height="18" fill="#e8006e"/>
<rect x="1283" y="523" width="7" height="17" fill="#e8006e"/>
<rect x="1293" y="532" width="7" height="8" fill="#72a800"/>
</g>
<path d="M1299.5,532.5 L1304.5,525.5 H1347.5 V539.5 H1304.5 Z" fill="#fff" stroke="#72a800" stroke-width="1.3"/>
<text x="1309.7" y="536.8" font-size="10.8" fill="#8c8c8c" textLength="31.1" lengthAdjust="spacingAndGlyphs">706.45</text>
<line x1="1" y1="610.5" x2="1300" y2="610.5" stroke="#666" stroke-width="1" stroke-dasharray="3 3" shape-rendering="crispEdges"/>
<g shape-rendering="crispEdges">
<rect x="0" y="606" width="2" height="5" fill="#72a800"/>
<rect x="5" y="590" width="7" height="21" fill="#72a800"/>
<rect x="14" y="586" width="7" height="25" fill="#72a800"/>
<rect x="23" y="584" width="7" height="27" fill="#72a800"/>
<rect x="33" y="586" width="7" height="25" fill="#72a800"/>
<rect x="42" y="590" width="7" height="21" fill="#72a800"/>
<rect x="51" y="593" width="7" height="18" fill="#72a800"/>
<rect x="61" y="599" width="7" height="12" fill="#72a800"/>
<rect x="70" y="602" width="7" height="9" fill="#72a800"/>
<rect x="79" y="605" width="7" height="6" fill="#72a800"/>
<rect x="89" y="608" width="7" height="3" fill="#72a800"/>
<rect x="98" y="610" width="7" height="1" fill="#72a800"/>
<rect x="107" y="610" width="7" height="3" fill="#e8006e"/>
<rect x="117" y="610" width="7" height="5" fill="#e8006e"/>
<rect x="126" y="610" width="7" height="7" fill="#e8006e"/>
<rect x="135" y="610" width="7" height="17" fill="#e8006e"/>
<rect x="145" y="610" width="7" height="25" fill="#e8006e"/>
<rect x="154" y="610" width="7" height="28" fill="#e8006e"/>
<rect x="163" y="610" width="7" height="30" fill="#e8006e"/>
<rect x="173" y="610" width="7" height="29" fill="#e8006e"/>
<rect x="182" y="610" width="7" height="32" fill="#e8006e"/>
<rect x="191" y="610" width="7" height="31" fill="#e8006e"/>
<rect x="201" y="610" width="7" height="29" fill="#e8006e"/>
<rect x="210" y="610" width="7" height="26" fill="#e8006e"/>
<rect x="219" y="610" width="7" height="20" fill="#e8006e"/>
<rect x="229" y="610" width="7" height="15" fill="#e8006e"/>
<rect x="238" y="610" width="7" height="11" fill="#e8006e"/>
<rect x="247" y="610" width="7" height="9" fill="#e8006e"/>
<rect x="257" y="610" width="7" height="7" fill="#e8006e"/>
<rect x="266" y="610" width="7" height="4" fill="#e8006e"/>
<rect x="275" y="610" width="7" height="1" fill="#72a800"/>
<rect x="285" y="608" width="7" height="3" fill="#72a800"/>
<rect x="294" y="607" width="7" height="4" fill="#72a800"/>
<rect x="303" y="607" width="7" height="4" fill="#72a800"/>
<rect x="313" y="607" width="7" height="4" fill="#72a800"/>
<rect x="322" y="607" width="7" height="4" fill="#72a800"/>
<rect x="331" y="606" width="7" height="5" fill="#72a800"/>
<rect x="341" y="606" width="7" height="5" fill="#72a800"/>
<rect x="350" y="605" width="7" height="6" fill="#72a800"/>
<rect x="359" y="605" width="7" height="6" fill="#72a800"/>
<rect x="369" y="604" width="7" height="7" fill="#72a800"/>
<rect x="378" y="603" width="7" height="8" fill="#72a800"/>
<rect x="387" y="604" width="7" height="7" fill="#72a800"/>
<rect x="397" y="606" width="7" height="5" fill="#72a800"/>
<rect x="406" y="607" width="7" height="4" fill="#72a800"/>
<rect x="415" y="605" width="7" height="6" fill="#72a800"/>
<rect x="425" y="603" width="7" height="8" fill="#72a800"/>
<rect x="434" y="601" width="7" height="10" fill="#72a800"/>
<rect x="443" y="602" width="7" height="9" fill="#72a800"/>
<rect x="453" y="602" width="7" height="9" fill="#72a800"/>
<rect x="462" y="603" width="7" height="8" fill="#72a800"/>
<rect x="471" y="604" width="7" height="7" fill="#72a800"/>
<rect x="481" y="604" width="7" height="7" fill="#72a800"/>
<rect x="490" y="605" width="7" height="6" fill="#72a800"/>
<rect x="499" y="605" width="7" height="6" fill="#72a800"/>
<rect x="509" y="605" width="7" height="6" fill="#72a800"/>
<rect x="518" y="606" width="7" height="5" fill="#72a800"/>
<rect x="527" y="606" width="7" height="5" fill="#72a800"/>
<rect x="537" y="606" width="7" height="5" fill="#72a800"/>
<rect x="546" y="607" width="7" height="4" fill="#72a800"/>
<rect x="555" y="607" width="7" height="4" fill="#72a800"/>
<rect x="565" y="608" width="7" height="3" fill="#72a800"/>
<rect x="574" y="610" width="7" height="1" fill="#72a800"/>
<rect x="583" y="610" width="7" height="3" fill="#e8006e"/>
<rect x="593" y="610" width="7" height="2" fill="#e8006e"/>
<rect x="602" y="609" width="7" height="2" fill="#72a800"/>
<rect x="611" y="605" width="7" height="6" fill="#72a800"/>
<rect x="621" y="604" width="7" height="7" fill="#72a800"/>
<rect x="630" y="604" width="7" height="7" fill="#72a800"/>
<rect x="639" y="601" width="7" height="10" fill="#72a800"/>
<rect x="649" y="601" width="7" height="10" fill="#72a800"/>
<rect x="658" y="601" width="7" height="10" fill="#72a800"/>
<rect x="667" y="600" width="7" height="11" fill="#72a800"/>
<rect x="677" y="599" width="7" height="12" fill="#72a800"/>
<rect x="686" y="599" width="7" height="12" fill="#72a800"/>
<rect x="695" y="601" width="7" height="10" fill="#72a800"/>
<rect x="705" y="603" width="7" height="8" fill="#72a800"/>
<rect x="714" y="605" width="7" height="6" fill="#72a800"/>
<rect x="723" y="609" width="7" height="2" fill="#72a800"/>
<rect x="733" y="610" width="7" height="3" fill="#e8006e"/>
<rect x="742" y="610" width="7" height="4" fill="#e8006e"/>
<rect x="751" y="610" width="7" height="6" fill="#e8006e"/>
<rect x="761" y="610" width="7" height="6" fill="#e8006e"/>
<rect x="770" y="610" width="7" height="6" fill="#e8006e"/>
<rect x="779" y="610" width="7" height="7" fill="#e8006e"/>
<rect x="789" y="610" width="7" height="8" fill="#e8006e"/>
<rect x="798" y="610" width="7" height="6" fill="#e8006e"/>
<rect x="807" y="610" width="7" height="5" fill="#e8006e"/>
<rect x="817" y="610" width="7" height="5" fill="#e8006e"/>
<rect x="826" y="610" width="7" height="5" fill="#e8006e"/>
<rect x="835" y="610" width="7" height="6" fill="#e8006e"/>
<rect x="845" y="610" width="7" height="6" fill="#e8006e"/>
<rect x="854" y="610" width="7" height="6" fill="#e8006e"/>
<rect x="863" y="610" width="7" height="7" fill="#e8006e"/>
<rect x="873" y="610" width="7" height="6" fill="#e8006e"/>
<rect x="882" y="610" width="7" height="5" fill="#e8006e"/>
<rect x="891" y="610" width="7" height="4" fill="#e8006e"/>
<rect x="901" y="610" width="7" height="4" fill="#e8006e"/>
<rect x="910" y="610" width="7" height="8" fill="#e8006e"/>
<rect x="919" y="610" width="7" height="12" fill="#e8006e"/>
<rect x="929" y="610" width="7" height="14" fill="#e8006e"/>
<rect x="938" y="610" width="7" height="16" fill="#e8006e"/>
<rect x="947" y="610" width="7" height="15" fill="#e8006e"/>
<rect x="957" y="610" width="7" height="13" fill="#e8006e"/>
<rect x="966" y="610" width="7" height="12" fill="#e8006e"/>
<rect x="975" y="610" width="7" height="8" fill="#e8006e"/>
<rect x="985" y="610" width="7" height="6" fill="#e8006e"/>
<rect x="994" y="610" width="7" height="4" fill="#e8006e"/>
<rect x="1003" y="610" width="7" height="1" fill="#72a800"/>
<rect x="1013" y="607" width="7" height="4" fill="#72a800"/>
<rect x="1022" y="607" width="7" height="4" fill="#72a800"/>
<rect x="1031" y="608" width="7" height="3" fill="#72a800"/>
<rect x="1041" y="610" width="7" height="1" fill="#72a800"/>
<rect x="1050" y="610" width="7" height="1" fill="#e8006e"/>
<rect x="1059" y="610" width="7" height="1" fill="#72a800"/>
<rect x="1069" y="609" width="7" height="2" fill="#72a800"/>
<rect x="1078" y="609" width="7" height="2" fill="#72a800"/>
<rect x="1087" y="609" width="7" height="2" fill="#72a800"/>
<rect x="1097" y="609" width="7" height="2" fill="#72a800"/>
<rect x="1106" y="609" width="7" height="2" fill="#72a800"/>
<rect x="1115" y="609" width="7" height="2" fill="#72a800"/>
<rect x="1125" y="610" width="7" height="1" fill="#72a800"/>
<rect x="1134" y="610" width="7" height="2" fill="#e8006e"/>
<rect x="1143" y="610" width="7" height="3" fill="#e8006e"/>
<rect x="1153" y="610" width="7" height="1" fill="#72a800"/>
<rect x="1162" y="608" width="7" height="3" fill="#72a800"/>
<rect x="1171" y="608" width="7" height="3" fill="#72a800"/>
<rect x="1181" y="608" width="7" height="3" fill="#72a800"/>
<rect x="1190" y="609" width="7" height="2" fill="#72a800"/>
<rect x="1199" y="609" width="7" height="2" fill="#72a800"/>
<rect x="1209" y="609" width="7" height="2" fill="#72a800"/>
<rect x="1218" y="609" width="7" height="2" fill="#72a800"/>
<rect x="1227" y="610" width="7" height="1" fill="#e8006e"/>
<rect x="1237" y="610" width="7" height="1" fill="#72a800"/>
<rect x="1246" y="609" width="7" height="2" fill="#72a800"/>
<rect x="1255" y="608" width="7" height="3" fill="#72a800"/>
<rect x="1265" y="607" width="7" height="4" fill="#72a800"/>
<rect x="1274" y="607" width="7" height="4" fill="#72a800"/>
<rect x="1283" y="608" width="7" height="3" fill="#72a800"/>
<rect x="1293" y="608" width="7" height="3" fill="#72a800"/>
</g>
<path d="M0.0,602.2 C0.7,601.8 8.8,597.6 10.6,596.4 C12.4,595.2 23.6,585.6 26.5,583.7 C29.4,581.8 50.8,569.8 54.0,568.5 C57.2,567.2 71.4,564.0 74.2,563.5 C77.0,563.0 91.7,561.1 95.4,561.1 C99.1,561.1 125.9,563.2 129.4,564.2 C132.9,565.2 145.5,574.2 148.5,576.2 C151.5,578.2 172.1,591.9 175.1,594.2 C178.1,596.5 191.6,608.4 194.1,610.4 C196.6,612.4 210.7,622.2 213.2,623.7 C215.7,625.2 229.0,631.4 232.2,632.3 C235.4,633.2 257.9,637.2 260.7,637.5 C263.5,637.8 272.1,637.6 274.0,637.5 C275.9,637.4 287.2,636.8 289.3,636.7 C291.4,636.6 303.7,635.6 305.7,635.4 C307.7,635.2 316.6,634.5 320.0,634.0 C323.4,633.5 351.9,628.2 356.6,627.5 C361.3,626.8 386.1,623.9 390.3,623.4 C394.5,622.9 416.1,620.7 419.6,620.1 C423.1,619.5 439.9,615.3 443.0,614.5 C446.1,613.7 463.9,608.9 466.4,608.4 C468.9,607.9 479.0,607.2 481.0,607.0 C483.0,606.8 493.1,605.2 495.7,604.8 C498.3,604.4 517.8,601.4 520.0,601.1 C522.2,600.8 527.1,600.2 529.0,600.0 C530.9,599.8 545.6,597.7 548.1,597.5 C550.6,597.3 564.6,596.8 567.1,596.7 C569.6,596.6 583.6,596.8 586.1,596.7 C588.6,596.6 602.7,595.8 605.2,595.6 C607.7,595.4 622.3,593.6 624.2,593.3 C626.1,593.0 632.4,592.1 633.7,591.8 C635.0,591.5 641.3,589.0 643.2,588.5 C645.1,588.0 659.8,585.3 662.3,584.7 C664.8,584.1 678.8,579.8 681.3,579.0 C683.8,578.2 697.8,573.9 700.3,573.3 C702.8,572.7 717.4,570.3 719.4,570.1 C721.4,569.9 728.9,570.4 730.8,570.5 C732.7,570.6 745.6,571.1 747.9,571.4 C750.2,571.7 763.1,574.0 765.0,574.3 C766.9,574.6 774.6,575.5 776.4,575.8 C778.2,576.1 789.3,577.8 791.6,578.1 C793.9,578.4 808.0,580.1 810.7,580.4 C813.4,580.7 829.3,582.5 831.6,582.8 C833.9,583.1 843.0,584.4 844.9,584.7 C846.8,585.0 857.9,586.9 860.2,587.2 C862.5,587.5 876.7,588.9 879.2,589.1 C881.7,589.3 896.2,590.3 898.2,590.4 C900.2,590.5 908.0,590.7 909.7,591.0 C911.4,591.3 921.2,594.2 923.0,594.8 C924.8,595.4 934.4,599.3 936.3,600.0 C938.2,600.7 949.6,605.0 951.5,605.7 C953.4,606.4 963.1,609.5 964.9,610.0 C966.7,610.5 976.3,612.5 978.2,612.7 C980.1,612.9 991.4,613.4 993.4,613.3 C995.4,613.2 1006.5,612.0 1008.6,611.9 C1010.7,611.8 1022.2,611.5 1025.0,611.4 C1027.8,611.3 1047.5,610.6 1051.3,610.5 C1055.1,610.4 1078.4,609.4 1082.6,609.3 C1086.8,609.2 1109.7,608.5 1113.9,608.4 C1118.1,608.3 1141.7,608.4 1145.2,608.4 C1148.7,608.4 1163.2,607.9 1166.0,607.8 C1168.8,607.7 1184.1,606.4 1186.9,606.3 C1189.7,606.2 1205.0,605.7 1207.8,605.7 C1210.6,605.7 1225.8,605.8 1228.6,605.7 C1231.4,605.6 1246.7,604.9 1249.5,604.7 C1252.3,604.5 1267.3,602.8 1270.4,602.6 C1273.5,602.4 1294.7,602.2 1296.4,602.2" fill="none" stroke="#ffb400" stroke-width="1.3"/>
<path d="M0.0,595.8 C0.6,594.5 7.4,578.8 8.5,576.8 C9.6,574.8 15.8,567.4 17.0,566.2 C18.2,565.0 25.3,559.0 26.6,558.1 C27.9,557.2 34.4,553.7 36.2,553.3 C38.0,552.9 51.5,551.2 54.2,551.4 C56.9,551.6 73.0,555.6 76.1,556.2 C79.2,556.8 98.4,560.3 100.9,560.9 C103.4,561.5 112.3,564.5 114.2,565.1 C116.1,565.7 127.8,568.1 129.4,569.5 C131.0,570.9 137.6,583.7 138.8,585.6 C140.0,587.5 145.9,595.2 147.6,597.3 C149.3,599.4 161.8,614.7 163.7,616.4 C165.6,618.1 173.9,621.1 175.4,622.2 C176.9,623.3 184.1,631.9 185.6,633.2 C187.1,634.5 196.2,640.6 198.0,641.5 C199.8,642.4 209.5,646.9 212.0,647.1 C214.5,647.3 232.3,644.5 235.4,644.2 C238.5,643.9 256.1,643.2 258.8,642.7 C261.5,642.2 274.0,637.6 276.4,636.9 C278.8,636.2 292.5,632.4 295.4,632.0 C298.3,631.6 318.0,630.5 320.0,630.4 C322.0,630.3 323.0,631.2 325.9,630.7 C328.8,630.2 360.2,624.2 363.9,623.4 C367.6,622.6 379.5,618.8 381.5,618.4 C383.5,618.0 391.8,617.6 393.2,617.5 C394.6,617.4 400.9,617.4 402.0,617.5 C403.1,617.6 407.0,619.5 409.3,618.7 C411.6,617.9 433.8,607.3 437.1,606.2 C440.4,605.1 456.0,603.2 459.1,602.9 C462.2,602.6 481.6,601.4 484.0,601.1 C486.4,600.8 493.3,599.2 495.7,598.9 C498.1,598.6 517.0,596.2 520.0,596.0 C523.0,595.8 538.5,595.3 540.5,595.2 C542.5,595.1 548.7,594.9 550.0,594.8 C551.3,594.7 558.1,593.3 559.5,593.3 C560.9,593.3 569.1,594.3 570.9,594.6 C572.7,594.9 584.5,597.9 586.1,598.1 C587.7,598.3 594.3,597.7 595.6,597.5 C596.9,597.3 603.9,595.7 605.2,595.2 C606.5,594.7 613.4,590.5 614.7,589.9 C616.0,589.3 622.9,586.9 624.2,586.6 C625.5,586.3 632.4,585.1 633.7,584.7 C635.0,584.3 641.8,580.6 643.2,580.0 C644.6,579.4 653.4,576.5 654.7,576.2 C656.0,575.9 661.2,575.2 662.3,574.8 C663.4,574.4 670.0,571.1 671.8,570.5 C673.6,569.9 687.0,565.5 688.9,565.1 C690.8,564.7 699.0,564.7 700.3,564.7 C701.6,564.7 706.9,564.4 707.9,564.4 C708.9,564.4 714.5,564.8 715.6,565.1 C716.7,565.4 723.7,569.0 725.1,569.5 C726.5,570.0 735.2,573.0 736.5,573.3 C737.8,573.6 743.0,574.0 744.1,574.3 C745.2,574.6 752.2,576.8 753.6,577.1 C755.0,577.4 763.7,578.0 765.0,578.1 C766.3,578.2 771.5,578.7 772.6,579.0 C773.7,579.3 780.8,581.6 782.1,581.9 C783.4,582.2 789.7,584.0 791.6,584.2 C793.5,584.4 808.3,584.5 810.7,584.7 C813.1,584.9 825.8,586.3 827.8,586.6 C829.8,586.9 839.6,588.9 841.1,589.1 C842.6,589.3 848.9,589.6 850.6,589.9 C852.3,590.2 863.7,593.1 865.9,593.3 C868.1,593.5 881.1,593.4 883.0,593.3 C884.9,593.2 893.0,592.3 894.4,592.3 C895.8,592.3 902.6,593.2 903.9,593.7 C905.2,594.2 912.2,599.1 913.5,600.0 C914.8,600.9 921.7,605.8 923.0,606.6 C924.3,607.4 931.1,611.2 932.5,611.9 C933.9,612.6 942.6,616.6 943.9,617.1 C945.2,617.6 950.2,618.8 951.5,619.0 C952.8,619.2 961.7,619.5 963.0,619.6 C964.3,619.7 969.5,620.4 970.6,620.3 C971.7,620.2 978.8,618.7 980.1,618.4 C981.4,618.1 988.2,616.5 989.6,616.1 C991.0,615.7 999.5,612.8 1001.0,612.3 C1002.5,611.8 1011.1,609.2 1012.4,608.9 C1013.7,608.6 1018.4,607.8 1020.0,607.8 C1021.6,607.8 1034.6,608.2 1036.7,608.4 C1038.8,608.6 1049.6,610.9 1051.3,610.9 C1053.0,610.9 1059.6,609.1 1061.7,608.9 C1063.8,608.7 1080.1,607.9 1082.6,607.8 C1085.1,607.7 1096.9,607.3 1099.3,607.2 C1101.7,607.1 1115.7,606.3 1118.1,606.3 C1120.5,606.3 1132.9,607.6 1134.8,607.8 C1136.7,608.0 1145.5,608.9 1147.3,608.8 C1149.1,608.7 1160.2,607.0 1161.9,606.8 C1163.6,606.6 1170.6,605.8 1172.3,605.7 C1174.0,605.6 1185.0,604.7 1186.9,604.7 C1188.8,604.7 1199.6,605.7 1201.5,605.7 C1203.4,605.7 1214.3,604.7 1216.1,604.7 C1217.9,604.7 1226.7,605.7 1228.6,605.7 C1230.5,605.7 1243.4,605.3 1245.3,605.1 C1247.2,604.9 1256.3,602.9 1257.8,602.6 C1259.3,602.3 1265.7,600.6 1268.3,600.5 C1270.9,600.4 1294.5,600.5 1296.4,600.5" fill="none" stroke="#6a14d2" stroke-width="1.5"/>
<path d="M1299.5,608.5 L1304.5,601.5 H1347.5 V615.5 H1304.5 Z" fill="#fff" stroke="#72a800" stroke-width="1.3"/>
<text x="1309.7" y="612.7" font-size="10.8" fill="#8c8c8c" textLength="19" lengthAdjust="spacingAndGlyphs">2.77</text>
<g font-size="11" text-anchor="middle">
<text x="45.7" y="658.7" fill="#999">8:00</text>
<text x="120.4" y="658.7" fill="#999">16:00</text>
<text x="193.6" y="658.7" fill="#0f89dc">8/23</text>
<text x="269.7" y="658.7" fill="#999">8:00</text>
<text x="344.4" y="658.7" fill="#999">16:00</text>
<text x="417.6" y="658.7" fill="#0f89dc">8/24</text>
<text x="493.7" y="658.7" fill="#999">8:00</text>
<text x="568.4" y="658.7" fill="#999">16:00</text>
<text x="641.6" y="658.7" fill="#0f89dc">8/25</text>
<text x="717.7" y="658.7" fill="#999">8:00</text>
<text x="792.4" y="658.7" fill="#999">16:00</text>
<text x="865.6" y="658.7" fill="#0f89dc">8/26</text>
<text x="941.7" y="658.7" fill="#999">8:00</text>
<text x="1016.4" y="658.7" fill="#999">16:00</text>
<text x="1089.6" y="658.7" fill="#0f89dc">8/27</text>
<text x="1165.7" y="658.7" fill="#999">8:00</text>
<text x="1240.4" y="658.7" fill="#999">16:00</text>
</g>
</svg></body></html>
